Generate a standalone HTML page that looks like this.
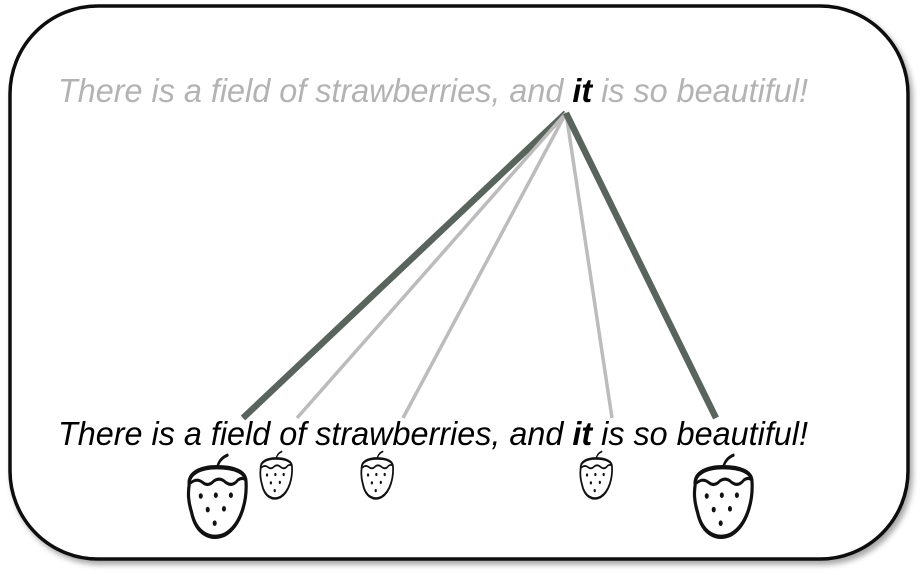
<!DOCTYPE html>
<html><head><meta charset="utf-8">
<style>
html,body{margin:0;padding:0;background:#fff;width:921px;height:575px;overflow:hidden}
svg{display:block}
</style></head>
<body>
<svg id="chart" width="921" height="575" viewBox="0 0 921 575" xmlns="http://www.w3.org/2000/svg">
  <defs>
    <filter id="sh" x="-5%" y="-5%" width="110%" height="110%">
      <feGaussianBlur in="SourceAlpha" stdDeviation="3"/>
      <feOffset dx="3" dy="4"/>
      <feComponentTransfer><feFuncA type="linear" slope="0.35"/></feComponentTransfer>
      <feMerge><feMergeNode/><feMergeNode in="SourceGraphic"/></feMerge>
    </filter>
    <g id="berry">
      <path d="M0,0.16 C0.02,0.07 0.08,0.02 0.18,-0.01" fill="none" stroke="#111" stroke-width="0.04" stroke-linecap="round"/>
      <path d="M-0.48,0.36 C-0.5,0.22 -0.3,0.14 0,0.14 C0.3,0.14 0.5,0.2 0.5,0.32 C0.52,0.55 0.42,0.86 0.14,0.98 C-0.1,1.06 -0.36,0.98 -0.44,0.7 C-0.5,0.56 -0.5,0.46 -0.48,0.36 Z" fill="#fff" stroke="#111" stroke-width="0.055" stroke-linejoin="round"/>
      <path d="M-0.46,0.34 Q-0.35,0.27 -0.25,0.33 Q-0.15,0.39 -0.05,0.31 Q0.05,0.26 0.15,0.33 Q0.27,0.39 0.36,0.3 Q0.44,0.26 0.5,0.3" fill="none" stroke="#111" stroke-width="0.04"/>
      <g fill="#111">
        <circle cx="-0.28" cy="0.5" r="0.035"/><circle cx="-0.02" cy="0.49" r="0.035"/><circle cx="0.24" cy="0.49" r="0.035"/>
        <circle cx="-0.16" cy="0.67" r="0.035"/><circle cx="0.12" cy="0.66" r="0.035"/>
        <circle cx="-0.04" cy="0.84" r="0.035"/>
      </g>
    </g>
  </defs>
  <rect x="10" y="6" width="898" height="553" rx="88" ry="88" fill="#fff" stroke="#111" stroke-width="3.5" filter="url(#sh)"/>

  <text x="58" y="102" textLength="750" lengthAdjust="spacingAndGlyphs" font-family="Liberation Sans, sans-serif" font-style="italic" font-size="33" fill="#b3b3b3">There is a field of strawberries, and <tspan font-weight="bold" fill="#000">it</tspan> is so beautiful!</text>

  <g id="links"></g>

  <text x="58" y="445" textLength="750" lengthAdjust="spacingAndGlyphs" font-family="Liberation Sans, sans-serif" font-style="italic" font-size="33" fill="#000">There is a field of strawberries, and <tspan font-weight="bold">it</tspan> is so beautiful!</text>

  <g id="berries"></g>
</svg>
<script>
const words = ["There","is","a","field","of","strawberries,","and","it","is","so","beautiful!"];
const targetWords = ["field","of","strawberries,","is","beautiful!"];
const weights = [0.9, 0.3, 0.3, 0.3, 0.9];
const linkEndX = [243, 297, 403, 612, 716];
const berryX = [217, 276, 377, 596, 723];

const NS = "http://www.w3.org/2000/svg";
const srcX = 566, srcY = 113, endY = 418;
const links = document.getElementById('links');
const berries = document.getElementById('berries');
function strokeW(w){ return 2 + w*5; }
function strokeC(w){ return w > 0.6 ? "#58645c" : "#bcbcbc"; }
targetWords.forEach((wd,i)=>{
  const w = weights[i];
  const l = document.createElementNS(NS,'line');
  
  
  l.setAttribute('x1', srcX); l.setAttribute('y1', srcY);
  l.setAttribute('x2', linkEndX[i]); l.setAttribute('y2', endY);
  l.setAttribute('stroke', strokeC(w));
  l.setAttribute('stroke-width', strokeW(w));
  links.appendChild(l);

  const big = w > 0.6;
  const sy = big ? 80 : 46;
  const sx = big ? 58 : 32;
  const top = big ? 456 : 452;
  const u = document.createElementNS(NS,'use');
  
  
  u.setAttribute('href', '#berry');
  u.setAttribute('transform', `translate(${berryX[i]},${top}) scale(${sx},${sy})`);
  berries.appendChild(u);
});
</script>
</body></html>
